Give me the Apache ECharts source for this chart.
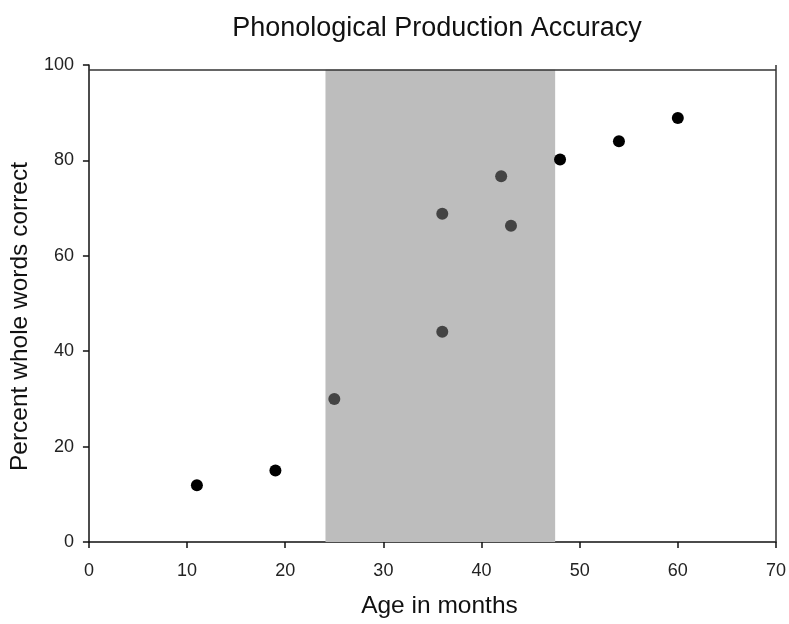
<!DOCTYPE html>
<html><head><meta charset="utf-8">
<script src="https://cdn.jsdelivr.net/npm/echarts@6/dist/echarts.min.js"></script>
<style>html,body{margin:0;padding:0;background:#fff}#c{width:789px;height:624px}</style>
</head><body><div id="c"></div>
<script>
const title = 'Phonological Production Accuracy';
const xName = 'Age in months';
const yName = 'Percent whole words correct';
const outsideAges = [11, 19, 48, 54, 60];
const outsideScores = [11.9, 15.0, 80.2, 84.0, 88.9];
const insideAges = [25, 36, 36, 42, 43];
const insideScores = [30.0, 44.1, 68.8, 76.7, 66.3];
const bandRange = [24.1, 47.5];
const bandTop = 99;

const chart = echarts.init(document.getElementById('c'));
const font = 'Liberation Sans, Arial, sans-serif';
chart.setOption({
  animation: false,
  title: {text: title, left: 432, textAlign: 'center', top: 10,
    textStyle: {fontFamily: font, fontWeight: 'normal', fontSize: 27, color: '#111'}},
  grid: {left: 88, right: 13, top: 65, bottom: 79},
  xAxis: {type: 'value', min: 0, max: 70, interval: 10,
    name: xName, nameLocation: 'middle', nameGap: 52,
    nameTextStyle: {fontFamily: font, fontSize: 24.5, color: '#111', padding: [0, 0, 0, 14]},
    axisLine: {onZero: false, lineStyle: {color: '#111', width: 1.5}},
    axisTick: {show: true, length: 6, lineStyle: {color: '#111', width: 1.5}},
    axisLabel: {fontFamily: font, fontSize: 18, color: '#222', margin: 20},
    splitLine: {show: false}},
  yAxis: {type: 'value', min: 0, max: 100, interval: 20,
    name: yName, nameLocation: 'middle', nameGap: 55, nameRotate: 90,
    nameTextStyle: {fontFamily: font, fontSize: 24.5, color: '#111', padding: [0, 26, 0, 0]},
    axisLine: {show: true, onZero: false, lineStyle: {color: '#111', width: 1.5}},
    axisTick: {show: true, length: 6, lineStyle: {color: '#111', width: 1.5}},
    axisLabel: {fontFamily: font, fontSize: 18, color: '#222', margin: 15},
    splitLine: {show: false}},
  series: [
    {type: 'scatter', symbolSize: 12, z: 3,
      data: insideAges.map((a, i) => [a, insideScores[i]]),
      itemStyle: {color: '#444', opacity: 1},
      markArea: {silent: true, itemStyle: {color: '#bdbdbd'},
        data: [[{xAxis: bandRange[0], yAxis: 0}, {xAxis: bandRange[1], yAxis: bandTop}]]},
      markLine: {silent: true, symbol: 'none', label: {show: false},
        lineStyle: {color: '#333', width: 1.5, type: 'solid'},
        data: [[{xAxis: 0, yAxis: bandTop}, {xAxis: 70, yAxis: bandTop}], {xAxis: 70}]}
    },
    {type: 'scatter', symbolSize: 12, z: 4,
      data: outsideAges.map((a, i) => [a, outsideScores[i]]),
      itemStyle: {color: '#000', opacity: 1}}
  ]
});
</script></body></html>
